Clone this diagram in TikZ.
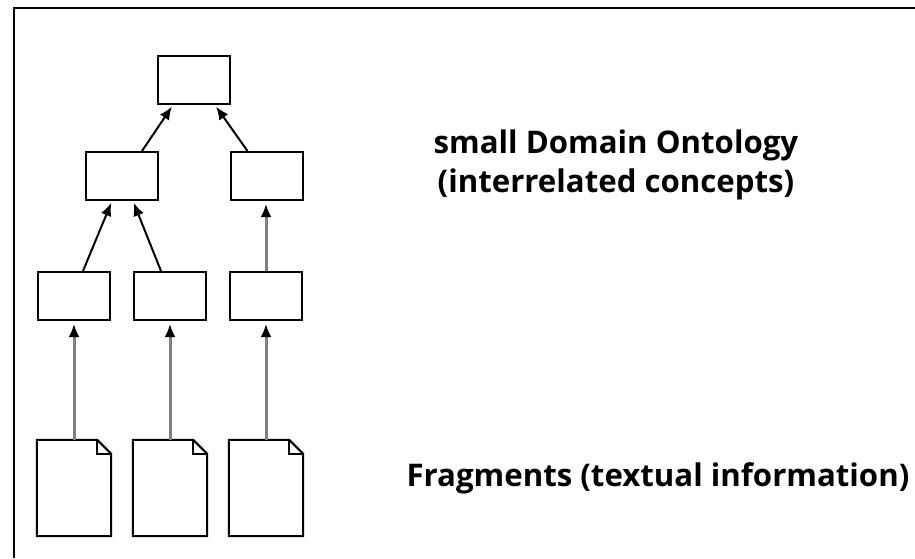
\documentclass[tikz,border=0pt]{standalone}
\usepackage{fontspec}
\setmainfont{Open Sans}
\usetikzlibrary{arrows.meta}

\begin{document}
\begin{tikzpicture}[
    x=1pt, y=-1pt,
    concept/.style={rectangle, draw, line width=2pt, minimum width=72pt, minimum height=48pt, inner sep=0pt},
    doc/.style={rectangle, minimum width=74pt, minimum height=96pt, inner sep=0pt},
    link/.style={line width=2pt, -{Latex[length=13pt, width=11pt]}, shorten >=2pt},
    source/.style={line width=3pt, draw=gray, -{Latex[color=black, length=13pt, width=11pt]}, shorten >=3pt},
    caption/.style={align=center, font=\fontsize{31.2}{39}\selectfont\bfseries}
]
\useasboundingbox (0,0) rectangle (915,558);
\draw[line width=2pt] (14,558) -- (14,8) -- (915,8);

% ontology
\node [concept] (root) at (194,80) {};
\node [concept] (midA) at (122,176) {};
\node [concept] (midB) at (266.5,176) {};
\node [concept] (lowA) at (74,296) {};
\node [concept] (lowB) at (170,296) {};
\node [concept] (lowC) at (266,296) {};

% fragments
\node [doc] (fragA) at (74,488) {};
\node [doc] (fragB) at (170,488) {};
\node [doc] (fragC) at (266,488) {};
\foreach \f in {fragA, fragB, fragC} {
    \draw [line width=2pt, line join=miter]
        (\f.south west) |- ([xshift=-14pt]\f.north east)
        -- ([yshift=-14pt]\f.north east) |- cycle;
    \draw [line width=2pt]
        ([xshift=-14pt]\f.north east) |- ([yshift=-14pt]\f.north east);
}

\draw [link] ([xshift=20pt]midA.north) -- ([xshift=-21pt]root.south);
\draw [link] ([xshift=-19pt]midB.north) -- ([xshift=21pt]root.south);
\draw [link] ([xshift=9pt]lowA.north) -- ([xshift=-10pt]midA.south);
\draw [link] ([xshift=-9pt]lowB.north) -- ([xshift=11pt]midA.south);
\draw [source] (lowC.north) -- (lowC.north |- midB.south);

\draw [source] (fragA.north) -- (lowA.south);
\draw [source] (fragB.north) -- (lowB.south);
\draw [source] (fragC.north) -- (lowC.south);

\node [caption] (ontology) at (616,165) {small Domain Ontology\\(interrelated concepts)};
\node [caption] (fragments) at (658,478) {Fragments (textual information)};
\end{tikzpicture}
\end{document}
